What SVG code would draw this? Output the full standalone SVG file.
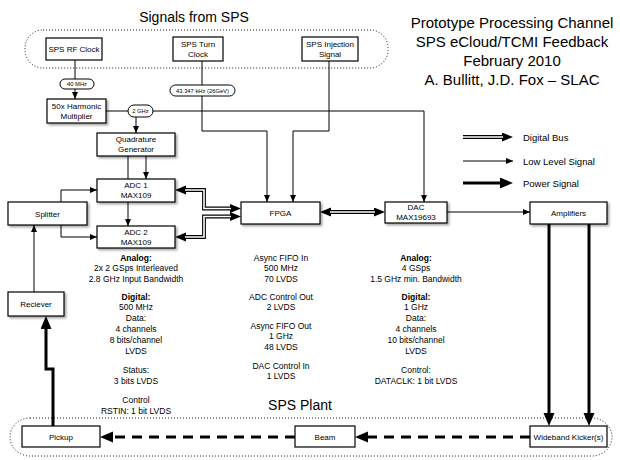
<svg xmlns="http://www.w3.org/2000/svg" width="620" height="460" viewBox="0 0 620 460">
  <defs>
    <filter id="sh" x="-20%" y="-30%" width="150%" height="170%">
      <feDropShadow dx="1.8" dy="1.8" stdDeviation="1.2" flood-color="#000" flood-opacity="0.35"/>
    </filter>
    <!-- thin signal arrowhead, tip at path end -->
    <marker id="aLow" markerUnits="userSpaceOnUse" markerWidth="8" markerHeight="7" refX="7" refY="3" orient="auto">
      <path d="M0,0 L7,3 L0,6 z" fill="#000"/>
    </marker>
    <!-- bus arrowhead, base at path end -->
    <marker id="aBus" markerUnits="userSpaceOnUse" markerWidth="12" markerHeight="10" refX="0" refY="4.5" orient="auto-start-reverse">
      <path d="M0,0 L11,4.5 L0,9 z" fill="#000"/>
    </marker>
    <!-- power arrowhead, base at path end -->
    <marker id="aPow" markerUnits="userSpaceOnUse" markerWidth="14" markerHeight="12" refX="0" refY="5.5" orient="auto">
      <path d="M0,0 L13,5.5 L0,11 z" fill="#000"/>
    </marker>
    <style>
      text { font-family: "Liberation Sans", Arial, Helvetica, sans-serif; fill: #000; }
      .box { fill: #fff; stroke: #000; stroke-width: 1.2; }
      .sh { filter: url(#sh); }
      .pill { fill: #fff; stroke: #000; stroke-width: 1; }
      .lbl { font-size: 8px; text-anchor: middle; }
      .plbl { font-size: 5.8px; text-anchor: middle; }
      .info { font-size: 8.5px; text-anchor: middle; }
      .b { font-weight: bold; }
      .head { font-size: 14px; text-anchor: middle; }
      .title { font-size: 15px; text-anchor: middle; }
      .leg { font-size: 9.5px; }
      .zone { fill: none; stroke: #000; stroke-width: 0.9; stroke-dasharray: 1 2; }
      .low { fill: none; stroke: #000; stroke-width: 1; }
      .busO { fill: none; stroke: #000; stroke-width: 3.8; }
      .busI { fill: none; stroke: #fff; stroke-width: 1.6; }
      .pow { fill: none; stroke: #000; stroke-width: 3; }
      .dash { fill: none; stroke: #000; stroke-width: 3; stroke-dasharray: 10 7; }
    </style>
  </defs>

  <rect width="620" height="460" fill="#fff"/>

  <!-- zones -->
  <g id="zones">
    <rect class="zone" x="25" y="30" width="363" height="38" rx="18"/>
    <text class="head" x="194" y="22">Signals from SPS</text>
    <rect class="zone" x="10" y="418" width="602" height="38" rx="20"/>
    <text class="head" x="300" y="410">SPS Plant</text>
  </g>

  <!-- title block -->
  <g id="title">
    <text class="title" x="512" y="28">Prototype Processing Channel</text>
    <text class="title" x="512" y="47">SPS eCloud/TCMI Feedback</text>
    <text class="title" x="512" y="66">February 2010</text>
    <text class="title" x="512" y="85">A. Bullitt, J.D. Fox – SLAC</text>
  </g>

  <!-- connectors -->
  <g id="connectors">
    <path class="low" d="M75,60 V79"/>
    <path class="low" d="M75,89 V99" marker-end="url(#aLow)"/>
    <path class="low" d="M106,111 H424 V202" marker-end="url(#aLow)"/>
    <path class="low" d="M136,117 V133" marker-end="url(#aLow)"/>
    <path class="low" d="M202,61 V131 H267 V202" marker-end="url(#aLow)"/>
    <path class="low" d="M329,61 V131 H293 V202" marker-end="url(#aLow)"/>
    <path class="low" d="M146,156 V179" marker-end="url(#aLow)"/>
    <path class="low" d="M128,156 V226" marker-end="url(#aLow)"/>
    <path class="low" d="M61,202 V190 H97" marker-end="url(#aLow)"/>
    <path class="low" d="M61,225 V237 H97" marker-end="url(#aLow)"/>
    <path class="low" d="M34,292 V225" marker-end="url(#aLow)"/>
    <path class="low" d="M447,212 H530" marker-end="url(#aLow)"/>

    <!-- digital buses -->
    <path class="busO" d="M186,190 H204 V208.5 H230" marker-start="url(#aBus)" marker-end="url(#aBus)"/>
    <path class="busI" d="M185,190 H204 V208.5 H231"/>
    <path class="busO" d="M186,237 H204 V216.5 H230" marker-start="url(#aBus)" marker-end="url(#aBus)"/>
    <path class="busI" d="M185,237 H204 V216.5 H231"/>
    <path class="busO" d="M331,212 H374" marker-start="url(#aBus)" marker-end="url(#aBus)"/>
    <path class="busI" d="M330,212 H375"/>

    <!-- power -->
    <path class="pow" d="M549,224 V413" marker-end="url(#aPow)"/>
    <path class="pow" d="M589,224 V413" marker-end="url(#aPow)"/>
    <path class="pow" d="M53,426 V369 H46 V329" marker-end="url(#aPow)"/>
    <path class="dash" d="M530,437 H368" marker-end="url(#aPow)"/>
    <path class="dash" d="M295,437 H113" marker-end="url(#aPow)"/>

    <!-- legend lines -->
    <path class="busO" d="M463,137 H502" marker-end="url(#aBus)"/>
    <path class="busI" d="M462,137 H503"/>
    <path class="low" d="M463,161 H513" marker-end="url(#aLow)"/>
    <path class="pow" d="M463,183 H500" marker-end="url(#aPow)"/>
  </g>

  <!-- legend labels -->
  <g id="legend">
    <text class="leg" x="523" y="140.5">Digital Bus</text>
    <text class="leg" x="523" y="164.5">Low Level Signal</text>
    <text class="leg" x="523" y="186.5">Power Signal</text>
  </g>

  <!-- frequency tags -->
  <g id="tag-40mhz">
    <rect class="pill" x="60" y="79" width="34" height="10" rx="5"/>
    <text class="plbl" x="77" y="86">40 MHz</text>
  </g>
  <g id="tag-2ghz">
    <rect class="pill" x="128" y="105" width="25" height="12" rx="6"/>
    <text class="plbl" x="140.5" y="113">2 GHz</text>
  </g>
  <g id="tag-turn">
    <rect class="pill" x="170" y="85" width="65" height="11" rx="5.5"/>
    <text class="plbl" x="202.5" y="92.5">43.347 kHz (26GeV)</text>
  </g>

  <!-- nodes -->
  <g id="sps-rf-clock">
    <rect class="box" x="46" y="38" width="56" height="22"/>
    <text class="lbl" x="74" y="52">SPS RF Clock</text>
  </g>
  <g id="sps-turn-clock">
    <rect class="box" x="173" y="37" width="50" height="24"/>
    <text class="lbl" x="198" y="46.5">SPS Turn</text>
    <text class="lbl" x="198" y="56.5">Clock</text>
  </g>
  <g id="sps-injection">
    <rect class="box" x="302" y="37" width="56" height="24"/>
    <text class="lbl" x="330" y="46.5">SPS Injection</text>
    <text class="lbl" x="330" y="56.5">Signal</text>
  </g>
  <g id="harmonic">
    <rect class="box sh" x="47" y="99" width="59" height="24"/>
    <text class="lbl" x="76.5" y="108.5">50x Harmonic</text>
    <text class="lbl" x="76.5" y="118.5">Multiplier</text>
  </g>
  <g id="quadrature">
    <rect class="box sh" x="97" y="133" width="78" height="23"/>
    <text class="lbl" x="136" y="142">Quadrature</text>
    <text class="lbl" x="136" y="152">Generator</text>
  </g>
  <g id="adc1">
    <rect class="box sh" x="97" y="179" width="78" height="23"/>
    <text class="lbl" x="136" y="188">ADC 1</text>
    <text class="lbl" x="136" y="198">MAX109</text>
  </g>
  <g id="adc2">
    <rect class="box sh" x="97" y="226" width="78" height="22"/>
    <text class="lbl" x="136" y="234.5">ADC 2</text>
    <text class="lbl" x="136" y="244.5">MAX109</text>
  </g>
  <g id="splitter">
    <rect class="box sh" x="8" y="202" width="79" height="23"/>
    <text class="lbl" x="47.5" y="216.5">Splitter</text>
  </g>
  <g id="reciever">
    <rect class="box sh" x="8" y="292" width="56" height="24"/>
    <text class="lbl" x="36" y="307">Reciever</text>
  </g>
  <g id="fpga">
    <rect class="box sh" x="241" y="202" width="79" height="22"/>
    <text class="lbl" x="280.5" y="216">FPGA</text>
  </g>
  <g id="dac">
    <rect class="box sh" x="385" y="202" width="62" height="21"/>
    <text class="lbl" x="416" y="209.5">DAC</text>
    <text class="lbl" x="416" y="219.5">MAX19693</text>
  </g>
  <g id="amplifiers">
    <rect class="box sh" x="530" y="202" width="77" height="22"/>
    <text class="lbl" x="568.5" y="216">Amplifiers</text>
  </g>
  <g id="pickup">
    <rect class="box" x="22" y="426" width="78" height="21"/>
    <text class="lbl" x="61" y="439.5">Pickup</text>
  </g>
  <g id="beam">
    <rect class="box" x="295" y="426" width="60" height="21"/>
    <text class="lbl" x="325" y="439.5">Beam</text>
  </g>
  <g id="kicker">
    <rect class="box" x="530" y="426" width="77" height="21"/>
    <text class="lbl" x="568.5" y="439.5">Wideband Kicker(s)</text>
  </g>

  <!-- specification notes -->
  <g id="adc-notes">
    <text class="info b" x="136" y="261">Analog:</text>
    <text class="info" x="136" y="271">2x 2 GSps Interleaved</text>
    <text class="info" x="136" y="282">2.8 GHz Input Bandwidth</text>
    <text class="info b" x="136" y="300">Digital:</text>
    <text class="info" x="136" y="310">500 MHz</text>
    <text class="info" x="136" y="321">Data:</text>
    <text class="info" x="136" y="332">4 channels</text>
    <text class="info" x="136" y="343">8 bits/channel</text>
    <text class="info" x="136" y="354">LVDS</text>
    <text class="info" x="136" y="373">Status:</text>
    <text class="info" x="136" y="384">3 bits LVDS</text>
    <text class="info" x="136" y="403">Control</text>
    <text class="info" x="136" y="414">RSTIN: 1 bit LVDS</text>
  </g>
  <g id="fpga-notes">
    <text class="info" x="281" y="261">Async FIFO In</text>
    <text class="info" x="281" y="271">500 MHz</text>
    <text class="info" x="281" y="282">70 LVDS</text>
    <text class="info" x="281" y="300">ADC Control Out</text>
    <text class="info" x="281" y="310">2 LVDS</text>
    <text class="info" x="281" y="329">Async FIFO Out</text>
    <text class="info" x="281" y="339">1 GHz</text>
    <text class="info" x="281" y="350">48 LVDS</text>
    <text class="info" x="281" y="369">DAC Control In</text>
    <text class="info" x="281" y="379">1 LVDS</text>
  </g>
  <g id="dac-notes">
    <text class="info b" x="416" y="261">Analog:</text>
    <text class="info" x="416" y="271">4 GSps</text>
    <text class="info" x="416" y="282">1.5 GHz min. Bandwidth</text>
    <text class="info b" x="416" y="300">Digital:</text>
    <text class="info" x="416" y="310">1 GHz</text>
    <text class="info" x="416" y="321">Data:</text>
    <text class="info" x="416" y="332">4 channels</text>
    <text class="info" x="416" y="343">10 bits/channel</text>
    <text class="info" x="416" y="354">LVDS</text>
    <text class="info" x="416" y="373">Control:</text>
    <text class="info" x="416" y="384">DATACLK: 1 bit LVDS</text>
  </g>
</svg>
